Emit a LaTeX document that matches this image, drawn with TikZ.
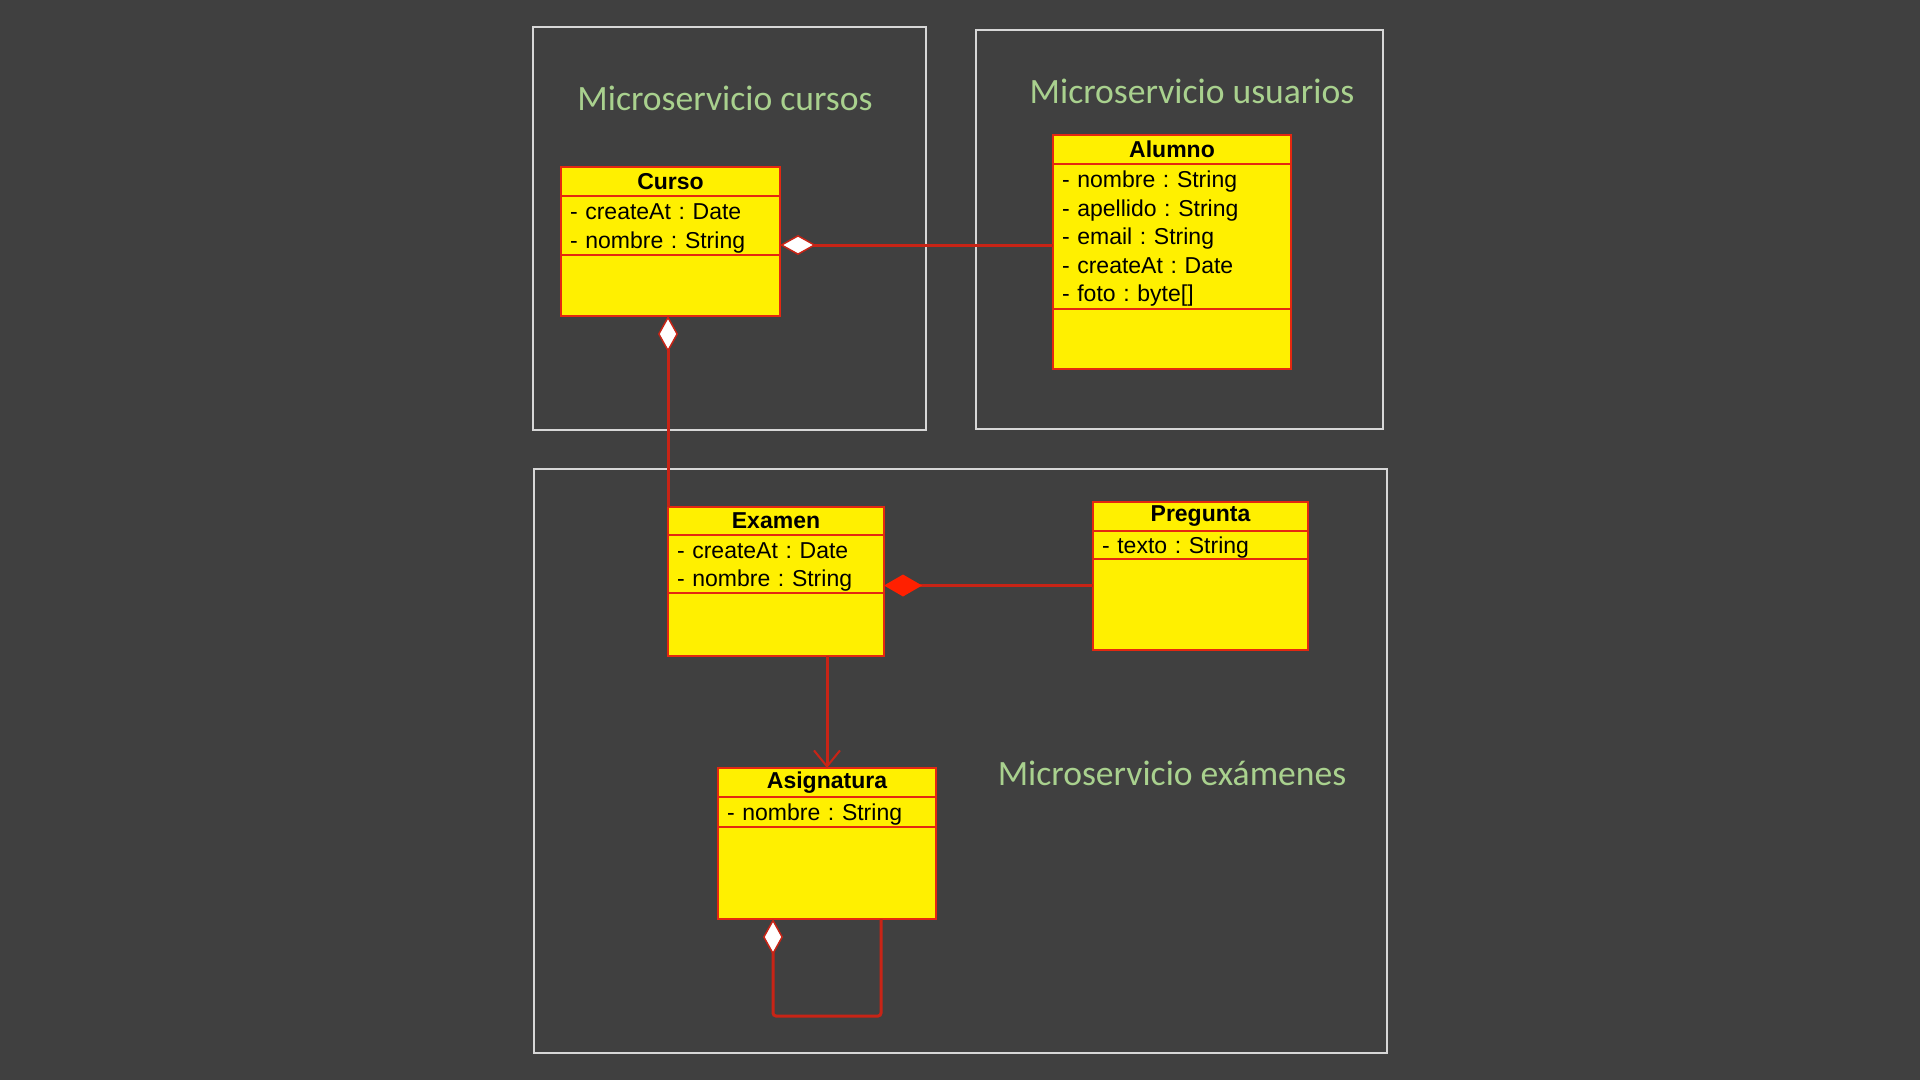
\documentclass[tikz,border=0pt]{standalone}
\usepackage{fontspec}
\setmainfont{Liberation Sans}
\newfontfamily\titlefont{Carlito}
\usetikzlibrary{positioning, arrows.meta}
\frenchspacing

\definecolor{cfondo}{RGB}{64,64,64}
\definecolor{cmarco}{RGB}{215,215,215}
\definecolor{ctitulo}{RGB}{169,209,142}
\definecolor{camarillo}{RGB}{255,240,0}
\definecolor{cborde}{RGB}{228,40,16}
\definecolor{cenlace}{RGB}{200,36,22}
\definecolor{crojo}{RGB}{255,32,0}

\tikzset{
  cabecera/.style={draw=cborde, fill=camarillo, line width=2pt, outer sep=0pt, minimum height=29pt,
    inner ysep=2pt, anchor=north west, font=\fontsize{23}{28}\selectfont\bfseries},
  atributos/.style={draw=cborde, fill=camarillo, line width=2pt, outer sep=0pt, inner xsep=9pt,
    inner ysep=0pt, align=left, font=\fontsize{23}{28.5}\selectfont,
    execute at begin node={\rule{0pt}{21.5pt}}},
  metodos/.style={draw=cborde, fill=camarillo, line width=2pt, outer sep=0pt},
  marco/.style={draw=cmarco, line width=2pt},
  titulo/.style={text=ctitulo, anchor=base, font=\titlefont\fontsize{35.6}{40}\selectfont},
  enlace/.style={draw=cenlace, line width=3pt},
  agreg/.tip={Diamond[length=36pt, width=20pt, fill=white, line width=1.5pt]},
  compos/.tip={Diamond[length=38pt, width=22pt, color=crojo]},
  navega/.tip={Straight Barb[length=16pt, width=26pt, line width=2pt]}
}

\begin{document}
\begin{tikzpicture}[x=1pt, y=-1pt]
\fill[cfondo] (0,0) rectangle (1920,1080);
\useasboundingbox (0,0) rectangle (1920,1080);

% marcos de los microservicios
\draw[marco] (533,27) rectangle (926,430);
\draw[marco] (976,30) rectangle (1383,429);
\draw[marco] (534,469) rectangle (1387,1053);

\node[titulo] (t-cursos) at (725,110) {Microservicio cursos};
\node[titulo] (t-usuarios) at (1192,103) {Microservicio usuarios};
\node[titulo] (t-examenes) at (1172,785) {Microservicio exámenes};

% clases
\node[cabecera, minimum width=219pt] (curso) at (561,167) {Curso};
\node[atributos, text width=201pt, minimum height=59pt, below=0pt of curso] (curso-a)
  {- createAt : Date\\- nombre : String};
\node[metodos, minimum width=219pt, minimum height=61pt, below=0pt of curso-a] (curso-m) {};

\node[cabecera, minimum width=238pt] (alumno) at (1053,135) {Alumno};
\node[atributos, text width=220pt, minimum height=145pt, below=0pt of alumno] (alumno-a)
  {- nombre : String\\- apellido : String\\- email : String\\- createAt : Date\\- foto : byte[]};
\node[metodos, minimum width=238pt, minimum height=60pt, below=0pt of alumno-a] (alumno-m) {};

\node[cabecera, minimum width=216pt, minimum height=28pt] (examen) at (668,507) {Examen};
\node[atributos, text width=198pt, minimum height=58pt, below=0pt of examen] (examen-a)
  {- createAt : Date\\- nombre : String};
\node[metodos, minimum width=216pt, minimum height=63pt, below=0pt of examen-a] (examen-m) {};

\node[cabecera, minimum width=215pt] (pregunta) at (1093,502) {Pregunta};
\node[atributos, text width=197pt, minimum height=28pt, below=0pt of pregunta] (pregunta-a)
  {- texto : String};
\node[metodos, minimum width=215pt, minimum height=91pt, below=0pt of pregunta-a] (pregunta-m) {};

\node[cabecera, minimum width=218pt] (asignatura) at (718,768) {Asignatura};
\node[atributos, text width=200pt, minimum height=30pt, below=0pt of asignatura] (asignatura-a)
  {- nombre : String};
\node[metodos, minimum width=218pt, minimum height=92pt, below=0pt of asignatura-a] (asignatura-m) {};

% relaciones
\coordinate (y-al) at (0,245);
\coordinate (y-pr) at (0,585.5);
\coordinate (lazo-i) at (773,1016);
\coordinate (lazo-d) at (881,1016);
\draw[enlace, {agreg}-] (curso-a.east |- y-al) -- (alumno-a.west |- y-al);
\draw[enlace, {agreg}-] (examen.north west |- curso-m.south) -- (examen.north west);
\draw[enlace, {compos}-] (examen-a.east |- y-pr) -- (pregunta-m.west |- y-pr);
\draw[enlace, -{navega}] (asignatura.north |- examen-m.south) -- (asignatura.north);
\draw[enlace, {agreg}-, rounded corners=3pt] (asignatura-m.south -| lazo-i) -- (lazo-i)
  -- (lazo-d) -- (asignatura-m.south -| lazo-d);
\end{tikzpicture}
\end{document}
